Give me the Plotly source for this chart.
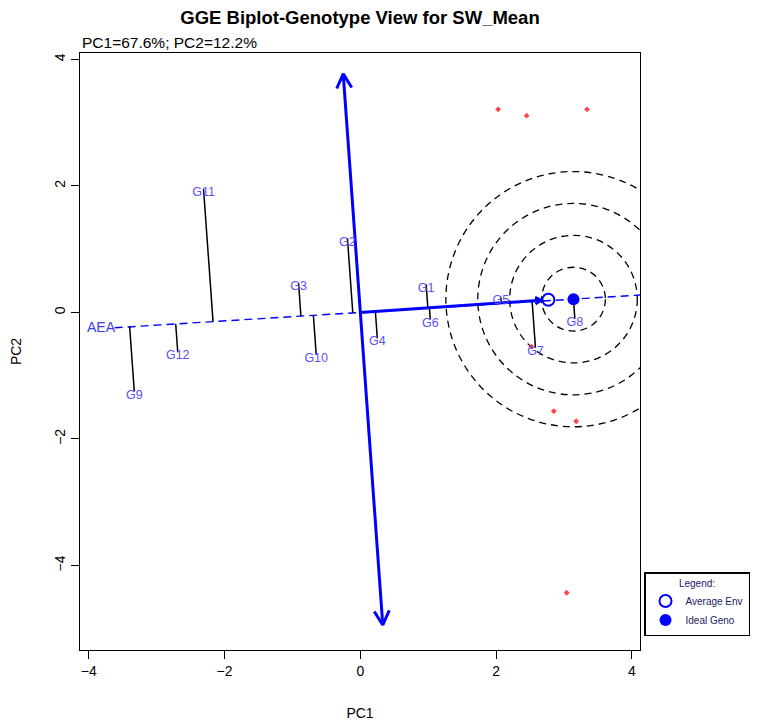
import math
import plotly.graph_objects as go

# ---------------- data ----------------
genotypes = ["G1", "G2", "G3", "G4", "G5", "G6", "G7", "G8", "G9", "G10", "G11", "G12"]
gen_pc1 = [0.97, -0.19, -0.91, 0.25, 2.07, 1.03, 2.58, 3.16, -3.33, -0.65, -2.31, -2.69]
gen_pc2 = [0.44, 1.17, 0.46, -0.41, 0.24, -0.11, -0.56, -0.10, -1.25, -0.67, 1.95, -0.63]

env_pc1 = [2.03, 2.45, 3.34, 2.85, 3.18, 2.52, 3.04]
env_pc2 = [3.21, 3.11, 3.21, -1.56, -1.72, -0.54, -4.43]

avg_env = [2.77, 0.20]          # Average Env
ideal_geno = [3.14, 0.21]       # Ideal Geno
ring_radii = [0.47, 0.94, 1.41, 1.88]   # concentric circles round the ideal genotype (PC1 units)
aea_left_pc1 = -3.62            # left end of the AEA abscissa
aea_label_pos = [-3.82, -0.26]
atc_pc2_ends = [3.77, -4.94]    # ends of the AEA ordinate (PC2 values)

x_ticks = [-4, -2, 0, 2, 4]
y_ticks = [-4, -2, 0, 2, 4]
title_text = "GGE Biplot-Genotype View for SW_Mean"
subtitle_text = "PC1=67.6%; PC2=12.2%"

# ---------------- geometry ----------------
# the page body adds an 8 px margin, so the figure is 8 px smaller each way
W, H = 752, 719
ML, MR, MT, MB = 72, 120, 45, 77
x_range = [-4.13, 4.12]
y_range = [-5.335, 4.10]
kx = (W - ML - MR) / (x_range[1] - x_range[0])   # px per PC1 unit
ky = (H - MT - MB) / (y_range[1] - y_range[0])   # px per PC2 unit

slope = ideal_geno[1] / ideal_geno[0]            # AEA direction


def project(x, y):
    t = (x + slope * y) / (1 + slope ** 2)
    return t, slope * t


def arrow_head(x0, y0, x1, y1, length_px, ang_deg):
    dx, dy = (x1 - x0) * kx, (y1 - y0) * ky
    n = math.hypot(dx, dy)
    bx, by = -dx / n, -dy / n
    a = math.radians(ang_deg)
    xs, ys = [], []
    for s in (1, -1):
        c, sn = math.cos(a), math.sin(a) * s
        rx = bx * c - by * sn
        ry = bx * sn + by * c
        xs.append(x1 + length_px * rx / kx)
        ys.append(y1 + length_px * ry / ky)
    return [xs[0], x1, xs[1]], [ys[0], y1, ys[1]]


BLUE = "#0000ff"
LABEL_BLUE = "#5a50ff"
FONT = "Liberation Sans, Arial, sans-serif"

fig = go.Figure()

# concentric circles (round on screen)
for r in ring_radii:
    ry = r * kx / ky
    fig.add_shape(type="circle", xref="x", yref="y",
                  x0=ideal_geno[0] - r, x1=ideal_geno[0] + r,
                  y0=ideal_geno[1] - ry, y1=ideal_geno[1] + ry,
                  line=dict(color="black", width=1.3, dash="7px,5px"), layer="below")

# AEA abscissa (dashed)
fig.add_trace(go.Scatter(x=[aea_left_pc1, x_range[1]],
                         y=[slope * aea_left_pc1, slope * x_range[1]],
                         mode="lines", line=dict(color=BLUE, width=1.4, dash="8px,5px"),
                         showlegend=False, hoverinfo="skip"))

# genotype projections onto AEA
px_, py_ = [], []
for gx, gy in zip(gen_pc1, gen_pc2):
    fx, fy = project(gx, gy)
    px_ += [gx, fx, None]
    py_ += [gy, fy, None]
fig.add_trace(go.Scatter(x=px_, y=py_, mode="lines", line=dict(color="black", width=1.5),
                         showlegend=False, hoverinfo="skip"))

# AEA ordinate with arrows at both ends
atc_x = [-slope * v for v in atc_pc2_ends]
fig.add_trace(go.Scatter(x=atc_x, y=atc_pc2_ends, mode="lines",
                         line=dict(color=BLUE, width=3), showlegend=False, hoverinfo="skip"))
hx, hy = [], []
for i in range(2):
    xs, ys = arrow_head(atc_x[1 - i], atc_pc2_ends[1 - i], atc_x[i], atc_pc2_ends[i], 16, 28)
    hx += xs + [None]
    hy += ys + [None]
fig.add_trace(go.Scatter(x=hx, y=hy, mode="lines", line=dict(color=BLUE, width=3),
                         showlegend=False, hoverinfo="skip"))

# solid arrow origin -> average environment
d_px = math.hypot(avg_env[0] * kx, avg_env[1] * ky)
shrink = 1 - 7 / d_px
tip = [avg_env[0] * shrink, avg_env[1] * shrink]
fig.add_trace(go.Scatter(x=[0, tip[0]], y=[0, tip[1]], mode="lines",
                         line=dict(color=BLUE, width=3), showlegend=False, hoverinfo="skip"))
xs, ys = arrow_head(0, 0, tip[0], tip[1], 7, 30)
fig.add_trace(go.Scatter(x=xs, y=ys, mode="lines", line=dict(color=BLUE, width=2.5),
                         fill="toself", fillcolor=BLUE, showlegend=False, hoverinfo="skip"))

# environments (red points)
fig.add_trace(go.Scatter(x=env_pc1, y=env_pc2, mode="markers",
                         marker=dict(symbol="diamond", size=4.5, color="rgba(255,50,50,0.9)"),
                         showlegend=False, hoverinfo="skip"))

# genotype labels
lab_shift = 4 / ky
fig.add_trace(go.Scatter(x=gen_pc1, y=[v - lab_shift for v in gen_pc2], mode="text",
                         text=genotypes, textposition="middle center",
                         textfont=dict(color=LABEL_BLUE, size=12.5, family=FONT),
                         showlegend=False, hoverinfo="skip"))

# AEA label
fig.add_trace(go.Scatter(x=[aea_label_pos[0]], y=[aea_label_pos[1]], mode="text", text=["AEA"],
                         textfont=dict(color="#3a3aff", size=14, family=FONT),
                         showlegend=False, hoverinfo="skip"))

# average env & ideal genotype
fig.add_trace(go.Scatter(x=[avg_env[0]], y=[avg_env[1]], mode="markers", name="Average Env",
                         marker=dict(symbol="circle-open", size=12, color=BLUE, line=dict(width=2))))
fig.add_trace(go.Scatter(x=[ideal_geno[0]], y=[ideal_geno[1]], mode="markers", name="Ideal Geno",
                         marker=dict(symbol="circle", size=12, color=BLUE)))

axis_common = dict(showgrid=False, zeroline=False, showline=True, mirror=True,
                   linecolor="black", linewidth=1.2, ticks="outside", ticklen=8,
                   tickwidth=1.2, tickcolor="black", automargin=False,
                   tickfont=dict(size=14, family=FONT, color="black"))

fig.update_layout(
    width=W, height=H,
    margin=dict(l=ML, r=MR, t=MT, b=MB, autoexpand=False),
    paper_bgcolor="white", plot_bgcolor="white",
    font=dict(family=FONT, color="black"),
    title=dict(text="<b>" + title_text + "</b>", x=0.5, xref="paper", xanchor="center",
               y=1 - 10 / H, yref="container", yanchor="middle",
               font=dict(size=18.5, family=FONT, color="black")),
    xaxis=dict(range=x_range, tickvals=x_ticks,
               title=dict(text="PC1", font=dict(size=14, family=FONT), standoff=30),
               **axis_common),
    yaxis=dict(range=y_range, tickvals=y_ticks, tickangle=-90,
               title=dict(text="PC2", font=dict(size=14, family=FONT), standoff=30),
               **axis_common),
    legend=dict(x=636 / W, y=1 - 564 / H,
                xref="container", yref="container", xanchor="left", yanchor="top",
                bordercolor="black", borderwidth=1.5, bgcolor="white",
                font=dict(size=10, family=FONT, color="#222266"),
                title=dict(text="Legend:", side="top center", font=dict(size=10, color="#222266")),
                itemwidth=30, tracegroupgap=0),
    annotations=[dict(text=subtitle_text, x=0, xref="paper", xanchor="left",
                      y=1, yref="paper", yanchor="bottom", yshift=0, showarrow=False,
                      font=dict(size=15.5, family=FONT, color="black"))],
)

fig.write_html("out.html")
